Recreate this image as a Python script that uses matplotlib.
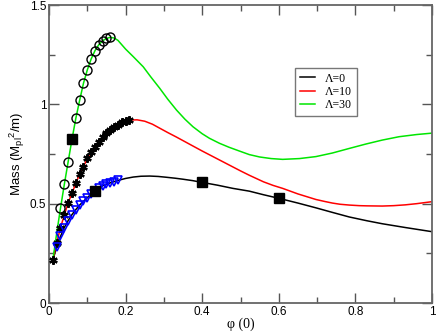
import numpy as np
import matplotlib
matplotlib.use('Agg')
import matplotlib.pyplot as plt
from matplotlib.ticker import MultipleLocator, FixedLocator, FixedFormatter

plt.rcParams['font.family'] = 'Liberation Sans'

# curves
x_l0 = [0.01, 0.02, 0.03, 0.04, 0.05, 0.06, 0.07, 0.08, 0.09, 0.10, 0.11, 0.12,
        0.13, 0.14, 0.15, 0.16, 0.17, 0.18, 0.20, 0.22, 0.24, 0.263, 0.285,
        0.306, 0.33, 0.35, 0.375, 0.40, 0.44, 0.48, 0.523, 0.56, 0.60, 0.65,
        0.697, 0.74, 0.784, 0.83, 0.87, 0.93, 1.0]
y_l0 = [0.216, 0.283, 0.335, 0.38, 0.415, 0.445, 0.47, 0.493, 0.512, 0.53, 0.548,
        0.565, 0.578, 0.59, 0.598, 0.605, 0.611, 0.617, 0.627, 0.634, 0.638,
        0.639, 0.637, 0.633, 0.628, 0.623, 0.616, 0.607, 0.593, 0.577, 0.563,
        0.545, 0.527, 0.503, 0.479, 0.456, 0.433, 0.414, 0.399, 0.38, 0.359]

x_l10 = [0.01, 0.02, 0.03, 0.04, 0.05, 0.06, 0.07, 0.08, 0.09, 0.10, 0.11, 0.12,
         0.13, 0.14, 0.15, 0.16, 0.17, 0.18, 0.19, 0.20, 0.21, 0.23, 0.25,
         0.27, 0.289, 0.31, 0.333, 0.355, 0.376, 0.40, 0.42, 0.445, 0.47, 0.50,
         0.523, 0.56, 0.585, 0.61, 0.65, 0.697, 0.72, 0.74, 0.76, 0.784,
         0.81, 0.83, 0.87, 0.90, 0.93, 0.96, 1.0]
y_l10 = [0.216, 0.303, 0.379, 0.443, 0.505, 0.552, 0.602, 0.649, 0.686, 0.728,
         0.761, 0.787, 0.812, 0.834, 0.854, 0.871, 0.885, 0.898, 0.909, 0.917,
         0.921, 0.922, 0.915, 0.9, 0.88, 0.858, 0.835, 0.812, 0.79, 0.765,
         0.745, 0.72, 0.695, 0.665, 0.643, 0.61, 0.592, 0.577, 0.549,
         0.521, 0.511, 0.503, 0.497, 0.493, 0.49, 0.489, 0.488, 0.49, 0.494,
         0.5, 0.51]

x_l30 = [0.01, 0.02, 0.03, 0.04, 0.05, 0.06, 0.07, 0.08, 0.09, 0.10, 0.11, 0.12,
         0.13, 0.14, 0.15, 0.16, 0.17, 0.18, 0.19, 0.20, 0.22, 0.246, 0.265,
         0.289, 0.31, 0.333, 0.355, 0.376, 0.40, 0.419, 0.445, 0.47, 0.497,
         0.523, 0.55, 0.58, 0.61, 0.654, 0.697, 0.74, 0.784, 0.827, 0.87,
         0.914, 0.96, 1.0]
y_l30 = [0.216, 0.35, 0.477, 0.597, 0.711, 0.824, 0.929, 1.02, 1.106, 1.173,
         1.228, 1.27, 1.30, 1.32, 1.332, 1.337, 1.334, 1.322, 1.30, 1.278,
         1.24, 1.189, 1.14, 1.081, 1.026, 0.971, 0.925, 0.887, 0.852, 0.829,
         0.804, 0.784, 0.765, 0.747, 0.735, 0.727, 0.723, 0.727, 0.737, 0.755,
         0.778, 0.8, 0.82, 0.837, 0.848, 0.855]

# symbols
x_circ = [0.03, 0.04, 0.05, 0.07, 0.08, 0.09, 0.10, 0.11, 0.12, 0.13, 0.14, 0.15, 0.16]
y_circ = [0.477, 0.597, 0.711, 0.929, 1.02, 1.106, 1.173, 1.228, 1.27, 1.30, 1.32, 1.332, 1.337]

x_star = [0.01, 0.02, 0.03, 0.04, 0.05, 0.06, 0.07, 0.08, 0.09, 0.10, 0.11,
          0.12, 0.13, 0.14, 0.15, 0.16, 0.17, 0.18, 0.19, 0.20, 0.21]
y_star = [0.216, 0.303, 0.379, 0.443, 0.505, 0.552, 0.602, 0.649, 0.686, 0.728,
          0.761, 0.787, 0.812, 0.834, 0.854, 0.871, 0.885, 0.898, 0.909, 0.917, 0.921]

x_tri = [0.02, 0.03, 0.04, 0.05, 0.06, 0.07, 0.08, 0.09, 0.10, 0.11, 0.13,
         0.14, 0.15, 0.16, 0.17, 0.18]
y_tri = [0.283, 0.335, 0.38, 0.415, 0.445, 0.47, 0.493, 0.512, 0.53, 0.548,
         0.578, 0.59, 0.598, 0.605, 0.611, 0.617]

x_sq = [0.06, 0.12, 0.40, 0.60]
y_sq = [0.824, 0.565, 0.607, 0.527]

labels = ['Λ=0', 'Λ=10', 'Λ=30']

fig = plt.figure(figsize=(4.36, 3.34), dpi=100)
ax = fig.add_axes([49/436, 31/334, 383/436, 298/334])

ax.plot(x_l0, y_l0, color='black', lw=1.1, label=labels[0], zorder=2)
ax.plot(x_l10, y_l10, color='#ff0000', lw=1.1, label=labels[1], zorder=2)
ax.plot(x_l30, y_l30, color='#00e600', lw=1.1, label=labels[2], zorder=2)

ax.plot(x_circ, y_circ, 'o', ms=6.5, mfc='none', mec='black', mew=1.0, zorder=3)
ax.plot(x_star, y_star, ls='none', marker=(6, 2, 0), ms=6, mec='black', mew=1.6, zorder=3)
ax.plot(x_tri, y_tri, 'v', ms=6, mfc='none', mec='#0000ff', mew=1.2, zorder=3)
ax.plot(x_sq, y_sq, 's', ms=7, color='black', zorder=4)

ax.set_xlim(0, 1)
ax.set_ylim(0, 1.5)
ax.xaxis.set_major_locator(FixedLocator([0, 0.2, 0.4, 0.6, 0.8, 1.0]))
ax.xaxis.set_major_formatter(FixedFormatter(['0', '0.2', '0.4', '0.6', '0.8', '1']))
ax.yaxis.set_major_locator(FixedLocator([0, 0.5, 1.0, 1.5]))
ax.yaxis.set_major_formatter(FixedFormatter(['0', '0.5', '1', '1.5']))
ax.xaxis.set_minor_locator(MultipleLocator(0.1))
ax.yaxis.set_minor_locator(MultipleLocator(0.25))
ax.tick_params(which='both', direction='in', top=True, right=True,
               labelsize=8.5, color='#555555', width=1.0, pad=2)
ax.tick_params(which='major', length=7)
ax.tick_params(which='minor', length=4)
for s in ax.spines.values():
    s.set_color('#666666')
    s.set_linewidth(1.3)

ax.set_xlabel('φ (0)', fontsize=10, family='Liberation Serif', labelpad=0)
ax.set_ylabel(r'Mass (M$_{\mathregular{pl}}$$^{\mathregular{2}}$/m)', fontsize=9.5, labelpad=2)

leg = ax.legend(loc='upper left', bbox_to_anchor=(0.642, 0.789), borderaxespad=0,
                fancybox=False, edgecolor='#777777', framealpha=1,
                prop={'family': 'Liberation Serif', 'size': 8.5},
                handlelength=1.3, handletextpad=0.85, labelspacing=0.1,
                borderpad=0.4)
leg.get_frame().set_linewidth(1.0)

plt.savefig('out.png', dpi=100)
